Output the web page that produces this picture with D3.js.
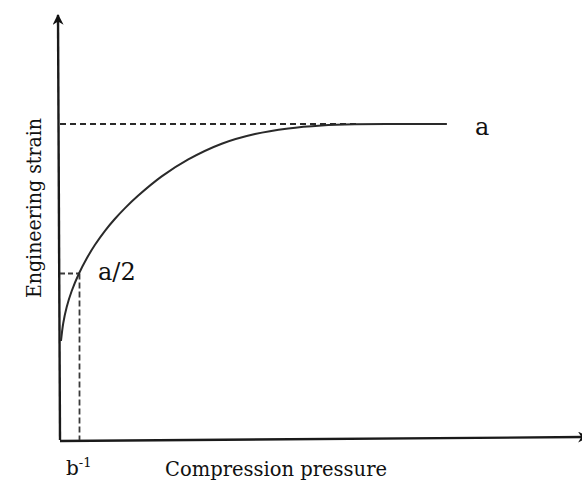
<!DOCTYPE html>
<html><head><meta charset="utf-8">
<script src="https://cdn.jsdelivr.net/npm/d3@7"></script>
<style>
html,body{margin:0;padding:0;background:#fff;}
text{font-family:"DejaVu Serif","Liberation Serif",serif;fill:#111;}
</style></head>
<body><div id="chart"></div>
<script>
// curve: compression pressure (x) vs engineering strain (y), arbitrary units
const pressure = [0.19, 0.63, 1.29, 2.25, 3.65, 5.13, 6.73, 8.65, 10.58, 12.5, 15.0, 19.56, 24.67, 31.1, 37.5, 43.9, 50.3, 56.7, 65.4, 74.4];
const strain   = [23.57, 27.86, 31.67, 35.48, 39.64, 43.21, 46.48, 49.81, 52.67, 55.21, 58.14, 62.76, 66.81, 70.55, 72.86, 74.19, 74.90, 75.19, 75.24, 75.24];
const plateau = 75.24;       // a
const plateauEnd = 57.2;     // dashed guide end
const halfStrain = 39.64;    // a/2
const halfPressure = 3.75;   // b^-1
const labels = {x: "Compression pressure", y: "Engineering strain", a: "a", half: "a/2", b: "b"};

const W = 582, H = 482;
const x = d3.scaleLinear().domain([0, 100]).range([60, 580]);
const y = d3.scaleLinear().domain([0, 100]).range([440, 20]);

const svg = d3.select("#chart").append("svg").attr("width", W).attr("height", H);
const defs = svg.append("defs");
defs.append("marker").attr("id", "arr").attr("viewBox", "0 0 10 10")
  .attr("refX", 9).attr("refY", 5).attr("markerWidth", 11).attr("markerHeight", 11)
  .attr("markerUnits", "userSpaceOnUse").attr("orient", "auto")
  .append("path").attr("d", "M0,0 L10,5 L0,10 L3,5 Z").attr("fill", "#111");

// axes
svg.append("line").attr("x1", x(0)).attr("y1", y(0)).attr("x2", x(0) - 2).attr("y2", 15)
  .attr("stroke", "#1a1a1a").attr("stroke-width", 2.4).attr("marker-end", "url(#arr)");
svg.append("line").attr("x1", x(0)).attr("y1", y(0) + 1).attr("x2", 588).attr("y2", y(0) - 3)
  .attr("stroke", "#1a1a1a").attr("stroke-width", 2.4).attr("marker-end", "url(#arr)");

// dashed guides
svg.append("line").attr("x1", x(0)).attr("x2", x(plateauEnd)).attr("y1", y(plateau)).attr("y2", y(plateau))
  .attr("stroke", "#2a2a2a").attr("stroke-width", 1.8).attr("stroke-dasharray", "6,4");
svg.append("line").attr("x1", x(0)).attr("x2", x(halfPressure)).attr("y1", y(halfStrain)).attr("y2", y(halfStrain))
  .attr("stroke", "#3a3a3a").attr("stroke-width", 1.8).attr("stroke-dasharray", "5,3");
svg.append("line").attr("x1", x(halfPressure)).attr("x2", x(halfPressure)).attr("y1", y(halfStrain)).attr("y2", y(0))
  .attr("stroke", "#3a3a3a").attr("stroke-width", 1.8).attr("stroke-dasharray", "6,3");

// curve
const pts = pressure.map((p, i) => [p, strain[i]]);
svg.append("path").datum(pts)
  .attr("d", d3.line().x(d => x(d[0])).y(d => y(d[1])).curve(d3.curveCatmullRom.alpha(0.5)))
  .attr("fill", "none").attr("stroke", "#2a2a2a").attr("stroke-width", 2);

// labels
svg.append("text").attr("x", 475).attr("y", 135).attr("font-size", 24).text(labels.a);
svg.append("text").attr("x", 98).attr("y", 280).attr("font-size", 24).text(labels.half);
const bt = svg.append("text").attr("x", 66).attr("y", 475).attr("font-size", 20);
bt.append("tspan").text(labels.b);
bt.append("tspan").attr("dy", -8).attr("font-size", 13).text("-1");
svg.append("text").attr("x", 276).attr("y", 476).attr("text-anchor", "middle").attr("font-size", 21)
  .attr("textLength", 222).attr("lengthAdjust", "spacingAndGlyphs").text(labels.x);
svg.append("text").attr("transform", "translate(41,208) rotate(-90)").attr("text-anchor", "middle")
  .attr("font-size", 21).attr("textLength", 180).attr("lengthAdjust", "spacingAndGlyphs").text(labels.y);
</script></body></html>
